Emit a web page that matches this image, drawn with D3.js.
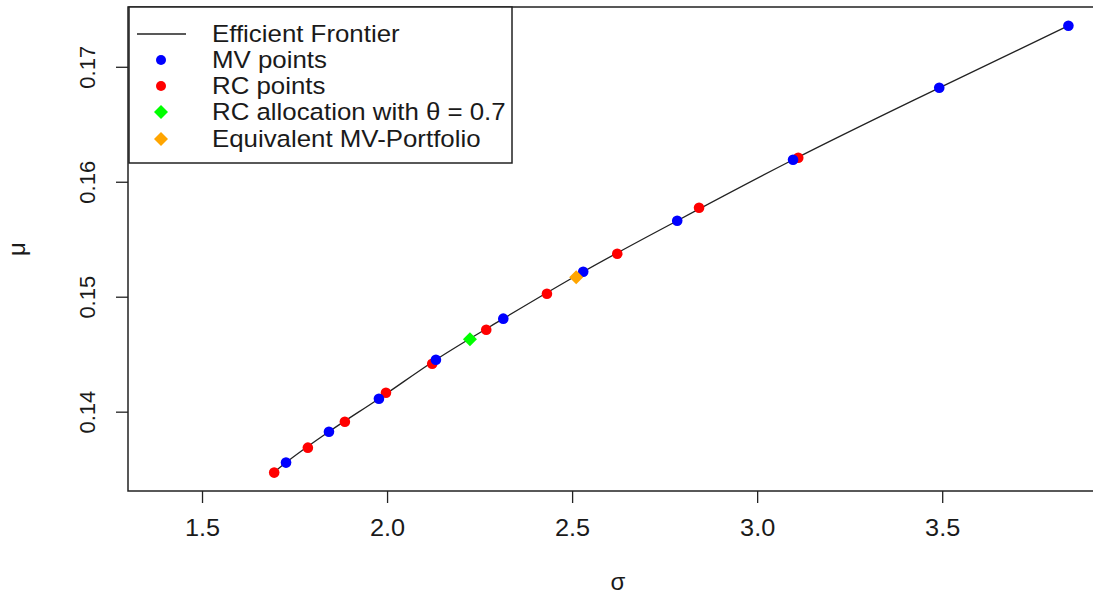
<!DOCTYPE html>
<html>
<head>
<meta charset="utf-8">
<script src="https://cdn.jsdelivr.net/npm/d3@7"></script>
<style>
  body { margin: 0; background: #fff; }
  text { font-family: "Liberation Sans", Arial, sans-serif; fill: #1a1a1a; }
</style>
</head>
<body>
<div id="chart"></div>
<script>
// efficient frontier (sampled along the curve)
const frontierSigma = [1.69, 1.727, 1.843, 1.978, 2.132, 2.314, 2.530, 2.784, 3.097, 3.492, 3.841];
const frontierMu    = [0.1346, 0.13557, 0.13826, 0.14113, 0.14452, 0.14809, 0.15217, 0.15661, 0.16191, 0.16817, 0.17357];

// MV points
const mvSigma = [1.727, 1.843, 1.978, 2.132, 2.314, 2.530, 2.784, 3.097, 3.492, 3.841];
const mvMu    = [0.13557, 0.13826, 0.14113, 0.14452, 0.14809, 0.15217, 0.15661, 0.16191, 0.16817, 0.17357];

// RC points
const rcSigma = [1.695, 1.786, 1.886, 1.997, 2.122, 2.268, 2.432, 2.622, 2.843, 3.111];
const rcMu    = [0.13470, 0.13687, 0.13913, 0.14165, 0.14417, 0.14713, 0.15026, 0.15374, 0.15774, 0.16209];

// RC allocation with theta = 0.7 and its MV equivalent
const rcAlloc = [2.224, 0.1463];
const mvEquiv = [2.511, 0.1517];

const xTicks = [1.5, 2.0, 2.5, 3.0, 3.5];
const yTicks = [0.14, 0.15, 0.16, 0.17];

const legendLabels = ["Efficient Frontier", "MV points", "RC points", "RC allocation with θ = 0.7", "Equivalent MV-Portfolio"];

const width = 1093;
const height = 597;
const margin = {top: 7, right: -15, bottom: 106, left: 128};
const stretch = 1.1; // text in the picture is a bit wider than tall

const svg = d3.select("#chart")
    .append("svg")
    .attr("width", width)
    .attr("height", height);

const x = d3.scaleLinear()
    .domain([1.3, 3.948])
    .range([margin.left, width - margin.right]);

const y = d3.scaleLinear()
    .domain([0.1331, 0.1752])
    .range([height - margin.bottom, margin.top]);

// frontier line
const line = d3.line()
    .x((d, i) => x(frontierSigma[i]))
    .y(d => y(d))
    .curve(d3.curveMonotoneX);

svg.append("path")
    .datum(frontierMu)
    .attr("fill", "none")
    .attr("stroke", "#222")
    .attr("stroke-width", 1.3)
    .attr("d", line);

// points
svg.selectAll(".rc")
    .data(rcMu)
    .enter().append("circle")
    .attr("class", "rc")
    .attr("cx", (d, i) => x(rcSigma[i]))
    .attr("cy", d => y(d))
    .attr("r", 5.3)
    .attr("fill", "#ff0000");

svg.selectAll(".mv")
    .data(mvMu)
    .enter().append("circle")
    .attr("class", "mv")
    .attr("cx", (d, i) => x(mvSigma[i]))
    .attr("cy", d => y(d))
    .attr("r", 5.3)
    .attr("fill", "#0000ff");

const diamond = d3.symbol().type(d3.symbolSquare).size(98);

svg.append("path")
    .attr("d", diamond)
    .attr("transform", `translate(${x(rcAlloc[0])},${y(rcAlloc[1])}) rotate(45)`)
    .attr("fill", "#00ff00");

svg.append("path")
    .attr("d", diamond)
    .attr("transform", `translate(${x(mvEquiv[0])},${y(mvEquiv[1])}) rotate(45)`)
    .attr("fill", "#ffa500");

// box
svg.append("rect")
    .attr("x", margin.left)
    .attr("y", margin.top)
    .attr("width", width - margin.right - margin.left)
    .attr("height", height - margin.bottom - margin.top)
    .attr("fill", "none")
    .attr("stroke", "#222")
    .attr("stroke-width", 1.5);

// X axis
const xAxis = svg.append("g")
    .attr("transform", `translate(0,${height - margin.bottom})`)
    .call(d3.axisBottom(x).tickValues(xTicks).tickFormat(d3.format(".1f")).tickSize(12).tickPadding(17));
xAxis.select(".domain").remove();
xAxis.selectAll("line").attr("stroke", "#222").attr("stroke-width", 1.3);
xAxis.selectAll("text")
    .attr("transform", `scale(${stretch},1)`)
    .style("font-size", "23px")
    .style("font-family", "'Liberation Sans', Arial, sans-serif")
    .attr("fill", "#1a1a1a");

// Y axis
const yAxis = svg.append("g")
    .attr("transform", `translate(${margin.left},0)`)
    .call(d3.axisLeft(y).tickValues(yTicks).tickFormat(d3.format(".2f")).tickSize(12));
yAxis.select(".domain").remove();
yAxis.selectAll("line").attr("stroke", "#222").attr("stroke-width", 1.3);
yAxis.selectAll("text")
    .attr("transform", "rotate(-90)")
    .attr("x", 0)
    .attr("y", -33)
    .attr("dy", 0)
    .attr("text-anchor", "middle")
    .style("font-size", "22px")
    .style("font-family", "'Liberation Sans', Arial, sans-serif")
    .attr("fill", "#1a1a1a");

// axis titles
svg.append("text")
    .attr("x", (margin.left + width - margin.right) / 2)
    .attr("y", 590)
    .attr("text-anchor", "middle")
    .style("font-size", "24px")
    .text("σ");

svg.append("text")
    .attr("transform", `translate(25,${(margin.top + height - margin.bottom) / 2}) rotate(-90)`)
    .attr("text-anchor", "middle")
    .style("font-size", "24px")
    .text("μ");

// legend
const legend = svg.append("g");
legend.append("rect")
    .attr("x", 129)
    .attr("y", 7)
    .attr("width", 383)
    .attr("height", 156)
    .attr("fill", "#fff")
    .attr("stroke", "#222")
    .attr("stroke-width", 1.5);

const legendY = [34, 60, 86, 112, 139];

legend.append("line")
    .attr("x1", 137).attr("x2", 186)
    .attr("y1", legendY[0]).attr("y2", legendY[0])
    .attr("stroke", "#222").attr("stroke-width", 1.3);
legend.append("circle").attr("cx", 161).attr("cy", legendY[1]).attr("r", 5).attr("fill", "#0000ff");
legend.append("circle").attr("cx", 161).attr("cy", legendY[2]).attr("r", 5).attr("fill", "#ff0000");
legend.append("path").attr("d", diamond)
    .attr("transform", `translate(161,${legendY[3]}) rotate(45)`).attr("fill", "#00ff00");
legend.append("path").attr("d", diamond)
    .attr("transform", `translate(161,${legendY[4]}) rotate(45)`).attr("fill", "#ffa500");

legend.selectAll(".leg-text")
    .data(legendLabels)
    .enter().append("text")
    .attr("class", "leg-text")
    .attr("transform", (d, i) => `translate(212,${legendY[i] + 8}) scale(${stretch},1)`)
    .style("font-size", "23.5px")
    .text(d => d);
</script>
</body>
</html>
